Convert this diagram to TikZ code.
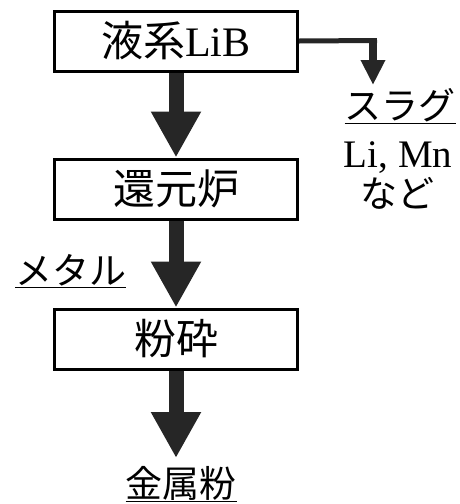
\documentclass[tikz,border=0pt]{standalone}
\usepackage{fontspec}
\setmainfont{Liberation Serif}
\newfontfamily\jpfont{Noto Sans CJK JP}
\usetikzlibrary{arrows.meta}
\definecolor{arrowgray}{HTML}{262626}
\tikzstyle{procbox}=[
    draw, line width=3pt,
    minimum width=243pt, minimum height=60pt,
    inner sep=0pt,
    font=\fontsize{42}{44}\selectfont,
]
\tikzstyle{flowarrow}=[
    line width=15pt, draw=arrowgray,
    -{Triangle[width=47pt,length=46pt]},
]
\tikzstyle{sidearrow}=[
    line width=8pt, draw=arrowgray,
    -{Triangle[width=23pt,length=25pt]},
]
\tikzstyle{tag}=[
    inner sep=0pt, anchor=base,
    font=\fontsize{37}{40}\selectfont,
]

\begin{document}
\begin{tikzpicture}[x=1pt, y=-1pt]
        \useasboundingbox (0,0) rectangle (460,504);
        \node (lib) at (176,41) [procbox] {{\jpfont 液系}LiB};
        \node (furnace) at (176,189) [procbox] {\jpfont 還元炉};
        \node (crush) at (176,339) [procbox] {\jpfont 粉砕};
        \node (metal) at (71,284) [tag] {\jpfont\underline{メタル}};
        \node (slag) at (400,119) [tag] {\jpfont\underline{スラグ}};
        \node (limn) at (398,167) [tag, font=\fontsize{39}{42}\selectfont] {Li, Mn};
        \node (etc) at (397,207) [tag] {\jpfont など};
        \node (powder) at (181,497) [tag] {\jpfont\underline{金属粉}};
        \coordinate (slagbend) at (373,40.5);
        \coordinate (slagtip) at (373,85);
        \coordinate (powdertip) at (176,458);
        \draw[flowarrow] (lib.south) -- (furnace.north);
        \draw[flowarrow] (furnace.south) -- (crush.north);
        \draw[flowarrow] (crush.south) -- (powdertip);
        \draw[line width=5pt, arrowgray] (lib.east) -- ([xshift=4pt]slagbend);
        \draw[sidearrow] ([yshift=2.5pt]slagbend) -- (slagtip);
    \end{tikzpicture}
\end{document}
